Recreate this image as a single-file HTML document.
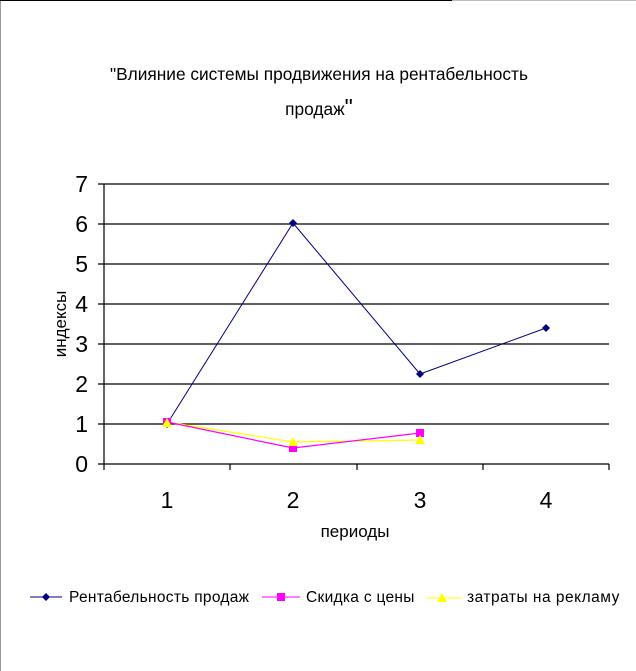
<!DOCTYPE html>
<html><head><meta charset="utf-8"><style>body{margin:0;background:#fff}svg{display:block}</style></head>
<body>
<svg width="636" height="671" viewBox="0 0 636 671" xmlns="http://www.w3.org/2000/svg" font-family="Liberation Sans, sans-serif">
<rect width="636" height="671" fill="#fff"/>
<line x1="0" y1="0.5" x2="452" y2="0.5" stroke="#000"/>
<line x1="452" y1="0.5" x2="636" y2="0.5" stroke="#bbb"/>
<line x1="0.5" y1="1" x2="0.5" y2="671" stroke="#999"/>
<text x="319" y="80" font-size="17.3" text-anchor="middle">"Влияние системы продвижения на рентабельность</text>
<text x="319" y="115" font-size="17.3" text-anchor="middle">продаж<tspan font-size="23">"</tspan></text>
<g stroke="#000" stroke-width="1.2">
<line x1="98" y1="184" x2="609" y2="184"/>
<line x1="98" y1="224" x2="609" y2="224"/>
<line x1="98" y1="264" x2="609" y2="264"/>
<line x1="98" y1="304" x2="609" y2="304"/>
<line x1="98" y1="344" x2="609" y2="344"/>
<line x1="98" y1="384" x2="609" y2="384"/>
<line x1="98" y1="424" x2="609" y2="424"/>
<line x1="98" y1="464" x2="609" y2="464"/>
<line x1="104" y1="184" x2="104" y2="470"/>
<line x1="230" y1="464" x2="230" y2="470"/>
<line x1="357" y1="464" x2="357" y2="470"/>
<line x1="483" y1="464" x2="483" y2="470"/>
<line x1="609" y1="464" x2="609" y2="470"/>
</g>
<g font-size="23" text-anchor="end">
<text x="88" y="192">7</text><text x="88" y="232">6</text><text x="88" y="272">5</text><text x="88" y="312">4</text>
<text x="88" y="352">3</text><text x="88" y="392">2</text><text x="88" y="432">1</text><text x="88" y="472">0</text>
</g>
<g font-size="23" text-anchor="middle">
<text x="167" y="508">1</text><text x="293" y="508">2</text><text x="420" y="508">3</text><text x="546" y="508">4</text>
</g>
<text x="355" y="537" font-size="17" text-anchor="middle">периоды</text>
<text transform="translate(66,324) rotate(-90)" font-size="17" text-anchor="middle">индексы</text>
<polyline points="167,422 293,442 420,440" fill="none" stroke="#ffff00" stroke-width="1.2"/>
<polyline points="167,422 293,448 420,433" fill="none" stroke="#ff00ff" stroke-width="1.2"/>
<polyline points="167,424 293,223 420,374 546,328" fill="none" stroke="#000080" stroke-width="1"/>
<g fill="#000080">
<path d="M167,420 l4,4 -4,4 -4,-4z"/><path d="M293,219 l4,4 -4,4 -4,-4z"/><path d="M420,370 l4,4 -4,4 -4,-4z"/><path d="M546,324 l4,4 -4,4 -4,-4z"/>
</g>
<g fill="#ff00ff">
<rect x="163" y="418" width="8" height="8"/><rect x="289" y="444" width="8" height="8"/><rect x="416" y="429" width="8" height="8"/>
</g>
<g fill="#ffff00">
<path d="M167,418 l5,9 h-10z"/><path d="M293,437 l5,9 h-10z"/><path d="M420,435 l5,9 h-10z"/>
</g>
<line x1="30" y1="597" x2="62" y2="597" stroke="#000080"/>
<path d="M46,593 l4,4 -4,4 -4,-4z" fill="#000080"/>
<text x="69" y="602" font-size="15.5" letter-spacing="0.3">Рентабельность продаж</text>
<line x1="262" y1="597" x2="300" y2="597" stroke="#ff00ff"/>
<rect x="277" y="593" width="8" height="8" fill="#ff00ff"/>
<text x="306" y="602" font-size="15.5" letter-spacing="0.3">Скидка с цены</text>
<line x1="426" y1="598" x2="462" y2="598" stroke="#ffff00"/>
<path d="M442,593 l5,9 h-10z" fill="#ffff00"/>
<text x="467" y="602" font-size="15.5" letter-spacing="0.5">затраты на рекламу</text>
</svg>
</body></html>
